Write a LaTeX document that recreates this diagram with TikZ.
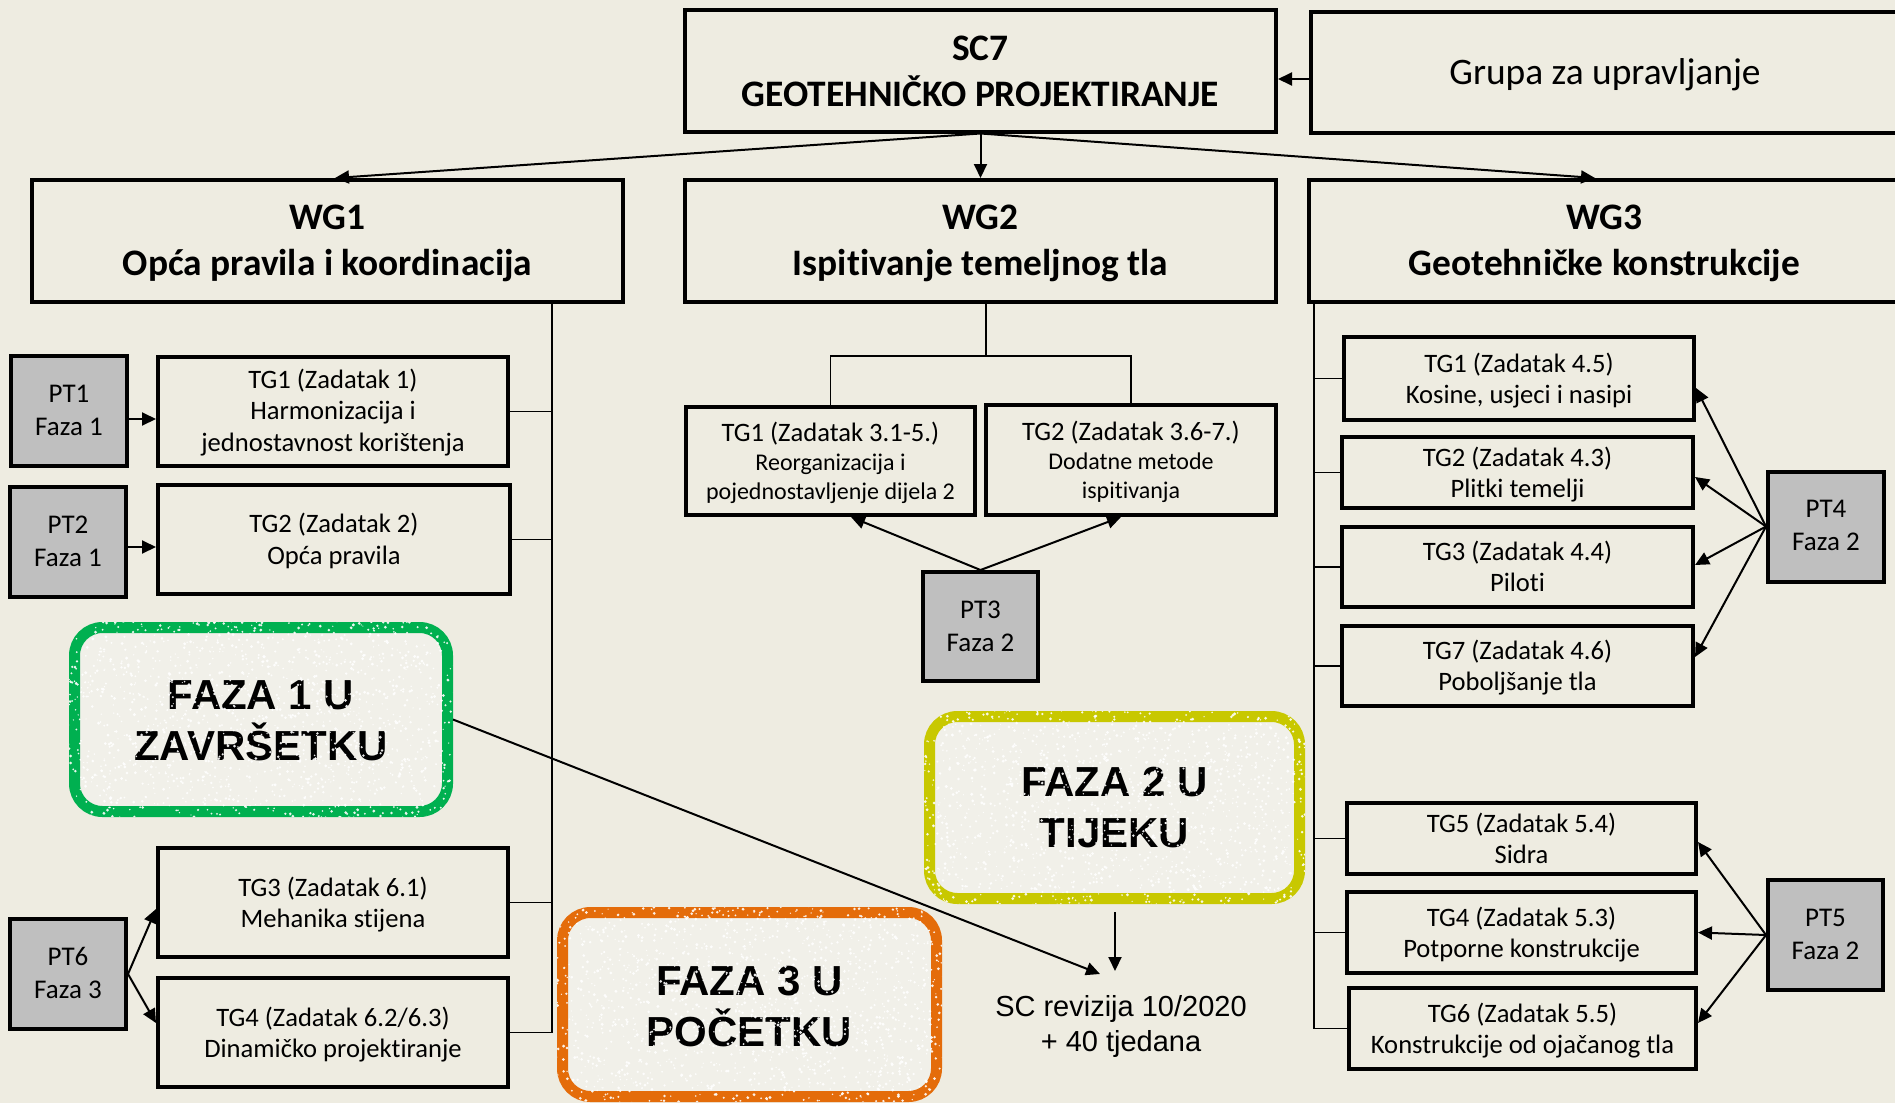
\documentclass[tikz,border=0pt]{standalone}
\usepackage{fontspec}
\setmainfont{Carlito}[Ligatures={NoCommon}]
\newfontfamily\arialf{Liberation Sans}
\usetikzlibrary{arrows.meta,calc}
\definecolor{bg}{HTML}{EEECE1}
\definecolor{ptgray}{HTML}{BFBFBF}
\definecolor{stgreen}{HTML}{00B050}
\definecolor{styellow}{HTML}{C8C800}
\definecolor{storange}{HTML}{E46C0A}
\definecolor{stfill}{HTML}{F1F0E9}
\newcommand\stampspeckles[1]{%
  \begin{scope}
    \clip[rounded corners=17pt] (#1.south west) rectangle (#1.north east);
    \foreach \k in {1,...,1500}{%
      \pgfmathsetmacro\sx{rand*195}%
      \pgfmathsetmacro\sy{rand*100}%
      \pgfmathsetmacro\sr{0.3+0.5*rnd}%
      \fill[white,opacity=0.9] ($(#1.center)+(\sx,\sy)$) circle[radius=\sr pt];
    }
  \end{scope}}
\begin{document}
\begin{tikzpicture}[x=0.5pt,y=-0.5pt,
  box/.style={draw=black,line width=2pt,inner sep=0pt,align=center,text depth=0pt},
  bigbox/.style={box,minimum width=295.5pt,minimum height=61pt,text height=34pt,font=\fontsize{18.7}{23}\selectfont\bfseries},
  tgtwo/.style={box,text height=24.8pt,font=\fontsize{13.3}{15.5}\selectfont},
  tgthree/.style={box,text height=40.2pt,font=\fontsize{13.3}{15.9}\selectfont},
  tgsmall/.style={box,text height=38.8pt,font=\fontsize{12}{14.5}\selectfont},
  ptbox/.style={box,fill=ptgray,minimum width=58pt,minimum height=55pt,text height=24.7pt,font=\fontsize{13.5}{16.5}\selectfont},
  conn/.style={line width=0.75pt},
  arr/.style={line width=1pt,-{Triangle[length=7pt,width=6.5pt]}},
  stampbox/.style={line width=5.5pt,rounded corners=14pt,fill=stfill,inner sep=0pt,align=center,
     text height=41pt,text depth=0pt,font=\arialf\fontsize{21}{25.5}\selectfont\bfseries}
]
\fill[bg] (0,0) rectangle (1895,1103);
\useasboundingbox (0,0) rectangle (1895,1103);

% top level
\node[bigbox,text height=35.5pt] (sc7) at (980.5,70.5) {SC7\\GEOTEHNIČKO PROJEKTIRANJE};
\node[box,minimum width=294.5pt,minimum height=60.5pt,text height=11.5pt,font=\fontsize{18.7}{22}\selectfont] (grupa) at (1605,72.5) {Grupa za upravljanje};
\node[bigbox] (wg1) at (327.5,241) {WG1\\Opća pravila i koordinacija};
\node[bigbox] (wg2) at (980.5,241) {WG2\\Ispitivanje temeljnog tla};
\node[bigbox] (wg3) at (1604.5,241) {WG3\\Geotehničke konstrukcije};

% WG1 groups
\node[tgthree,minimum width=175pt,minimum height=54.5pt] (t11) at (333,411.5) {TG1 (Zadatak 1)\\Harmonizacija i\\jednostavnost korištenja};
\node[tgtwo,minimum width=176pt,minimum height=54.5pt,font=\fontsize{13.3}{16}\selectfont] (t12) at (334,539.5) {TG2 (Zadatak 2)\\Opća pravila};
\node[tgtwo,minimum width=175pt,minimum height=54.5pt,font=\fontsize{13.3}{15.5}\selectfont] (t13) at (333,902.5) {TG3 (Zadatak 6.1)\\Mehanika stijena};
\node[tgtwo,minimum width=175pt,minimum height=54.5pt,font=\fontsize{13.3}{15.5}\selectfont] (t14) at (333,1032.5) {TG4 (Zadatak 6.2/6.3)\\Dinamičko projektiranje};
\node[ptbox] (pt1) at (69,411) {PT1\\Faza 1};
\node[ptbox] (pt2) at (68,542) {PT2\\Faza 1};
\node[ptbox] (pt6) at (68,974) {PT6\\Faza 3};

% WG2 groups
\node[tgsmall,minimum width=144.5pt,minimum height=54pt] (t21) at (830.5,461) {{\fontsize{13.3}{14.5}\selectfont TG1 (Zadatak 3.1-5.)}\\Reorganizacija i\\pojednostavljenje dijela 2};
\node[tgsmall,minimum width=145pt,minimum height=55pt] (t22) at (1131,460) {{\fontsize{13.3}{14.5}\selectfont TG2 (Zadatak 3.6-7.)}\\Dodatne metode\\ispitivanja};
\node[ptbox,minimum width=57.5pt,minimum height=54.5pt] (pt3) at (980.5,626.5) {PT3\\Faza 2};

% WG3 groups
\node[tgtwo,minimum width=175pt,minimum height=41.5pt] (t31) at (1519,378.5) {TG1 (Zadatak 4.5)\\Kosine, usjeci i nasipi};
\node[tgtwo,minimum width=175.5pt,minimum height=35.5pt] (t32) at (1517.5,472.5) {TG2 (Zadatak 4.3)\\Plitki temelji};
\node[tgtwo,minimum width=175.5pt,minimum height=40pt] (t33) at (1517.5,567) {TG3 (Zadatak 4.4)\\Piloti};
\node[tgtwo,minimum width=175.5pt,minimum height=40pt] (t37) at (1517.5,666) {TG7 (Zadatak 4.6)\\Poboljšanje tla};
\node[tgtwo,minimum width=174.5pt,minimum height=35.5pt] (t35) at (1521.5,838.5) {TG5 (Zadatak 5.4)\\Sidra};
\node[tgtwo,minimum width=174.5pt,minimum height=40.5pt] (t34) at (1521.5,932.5) {TG4 (Zadatak 5.3)\\Potporne konstrukcije};
\node[tgtwo,minimum width=173.5pt,minimum height=40.5pt] (t36) at (1522.5,1028.5) {TG6 (Zadatak 5.5)\\Konstrukcije od ojačanog tla};
\node[ptbox,text height=23.5pt] (pt4) at (1826,526.5) {PT4\\Faza 2};
\node[ptbox,minimum width=57.5pt] (pt5) at (1825.5,935) {PT5\\Faza 2};

% top arrows
\draw[arr] (sc7.south) -- (wg1.north -| 335,0);
\draw[arr] (sc7.south) -- (wg2.north);
\draw[arr] (sc7.south) -- (wg3.north -| 1595,0);
\draw[arr] (grupa.west |- 0,79) -- (sc7.east |- 0,79);

% WG1 tree
\coordinate (j1) at (552,302);
\draw[conn] (wg1.south -| j1) |- (t11.east);
\draw[conn] (wg1.south -| j1) |- (t12.east);
\draw[conn] (wg1.south -| j1) |- (t13.east);
\draw[conn] (wg1.south -| j1) |- (t14.east);

% WG2 tree
\coordinate (j2) at (986,356);
\draw[conn] (wg2.south -| j2) -- (j2);
\draw[conn] (t21.north) |- (j2) -| (t22.north);

% WG3 tree
\coordinate (j3) at (1314,302);
\foreach \t in {t31,t32,t33,t37,t35,t34,t36}{
  \draw[conn] (wg3.south -| j3) |- (\t.west);
}

% PT arrows
\coordinate (a1) at ($(pt1.east)+(0,8)$);
\draw[arr] (a1) -- (a1 -| t11.west);
\coordinate (a2) at ($(pt2.east)+(0,5)$);
\draw[arr] (a2) -- (a2 -| t12.west);
\draw[arr] (pt6.east) -- (t13.west |- 0,909);
\draw[arr] (pt6.east) -- (t14.west |- 0,1023);
\draw[arr] (pt3.north) -- (t21.south -| 851,0);
\draw[arr] (pt3.north) -- (t22.south -| 1121,0);
\draw[arr] (pt4.west) -- (t31.east |- 0,388);
\draw[arr] (pt4.west) -- (t32.east |- 0,477);
\draw[arr] (pt4.west) -- (t33.east |- 0,565);
\draw[arr] (pt4.west) -- (t37.east |- 0,657);
\draw[arr] (pt5.west) -- (t35.east |- 0,842);
\draw[arr] (pt5.west) -- (t34.east);
\draw[arr] (pt5.west) -- (t36.east |- 0,1023);

% stamps
\node[stampbox,draw=stgreen,minimum width=186.5pt,minimum height=92pt] (f1) at (261,719.5) {FAZA 1 U\\ZAVRŠETKU};
\node[stampbox,draw=styellow,minimum width=185pt,minimum height=91pt,text height=39.5pt] (f2) at (1114.5,807.5) {FAZA 2 U\\TIJEKU};
\node[stampbox,draw=storange,minimum width=187pt,minimum height=92pt,text height=42pt] (f3) at (749.5,1004.5) {FAZA 3 U\\POČETKU};
\pgfmathsetseed{7}
\stampspeckles{f1}
\stampspeckles{f2}
\stampspeckles{f3}

% revision
\node[font=\arialf\fontsize{14.5}{17.5}\selectfont,align=center,inner sep=0pt] (rev) at (1121,1026) {SC revizija 10/2020\\+ 40 tjedana};
\coordinate (rt1) at (1100,974);
\draw[arr] (f1.east) -- (rt1);
\coordinate (f2a) at (1115,912);
\coordinate (rt2) at (1115,971);
\draw[arr] (f2a) -- (rt2);
\end{tikzpicture}
\end{document}
